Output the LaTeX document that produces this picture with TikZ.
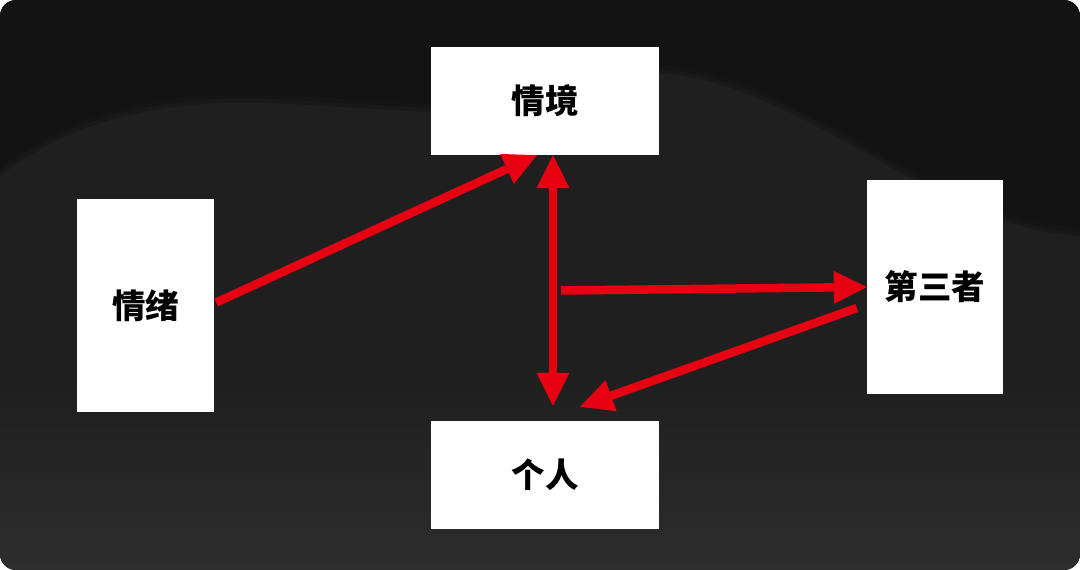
\documentclass[tikz,border=0pt]{standalone}
\usepackage{fontspec}
\newfontfamily\cjk{Noto Sans CJK SC}
\usetikzlibrary{arrows.meta}

\definecolor{bgtop}{HTML}{111111}
\definecolor{bgmid}{HTML}{1F1F1F}
\definecolor{bglow}{HTML}{2D2D2D}
\definecolor{arrowred}{HTML}{E60012}

\tikzset{
  box/.style={fill=white, inner sep=0pt, text=black, font=\cjk\bfseries\fontsize{33.5}{40}\selectfont},
  redtip/.tip={Triangle[width=33pt, length=33pt, line width=0pt]},
  redarrow/.style={draw=arrowred, line width=8.5pt, -redtip},
  dblarrow/.style={draw=arrowred, line width=8.5pt, redtip-redtip},
}

\begin{document}
\begin{tikzpicture}[x=1pt, y=-1pt]

    \useasboundingbox (0,0) rectangle (1080,570);
    \begin{scope}
        \clip[rounded corners=16pt] (0,0) rectangle (1080,570);
        \fill[bgmid] (0,0) rectangle (1080,570);
        \shade[top color=bgmid, bottom color=bglow] (0,380) rectangle (1080,570);
        % soft edge of the dark wave
        \foreach \d in {8,4,0}
        \fill[bgtop, opacity=0.4] (0,0) -- (0,168+\d) .. controls (80,105+\d) and (180,92+\d) .. (265,95+\d)
            .. controls (350,98+\d) and (420,106+\d) .. (470,104+\d)
            .. controls (560,95+\d) and (610,62+\d) .. (670,66+\d)
            .. controls (780,78+\d) and (880,165+\d) .. (985,205+\d)
            .. controls (1020,220+\d) and (1050,226+\d) .. (1080,228+\d) -- (1080,0) -- cycle;
    \end{scope}

    \node (qingjing) [box, minimum width=228pt, minimum height=108pt] at (545,101) {情境};
    \node (qingxu) [box, minimum width=137pt, minimum height=213pt] at (145.5,305.5) {情绪};
    \node (disanzhe) [box, minimum width=136pt, minimum height=214pt] at (935,287) {第三者};
    \node (geren) [box, minimum width=228pt, minimum height=108pt] at (545,475) {个人};

    \coordinate (junc) at (561,290.5);

    \draw[redarrow] ([xshift=2pt,yshift=3pt]qingxu.east) -- ([xshift=-8pt]qingjing.south);
    \draw[dblarrow] ([xshift=8pt]qingjing.south) -- ([xshift=8pt,yshift=15pt]geren.north);
    \draw[redarrow] (junc) -- (disanzhe.west);
    \draw[redarrow] ([xshift=-10pt,yshift=-21pt]disanzhe.west) -- ([xshift=35pt,yshift=14pt]geren.north);

\end{tikzpicture}
\end{document}
